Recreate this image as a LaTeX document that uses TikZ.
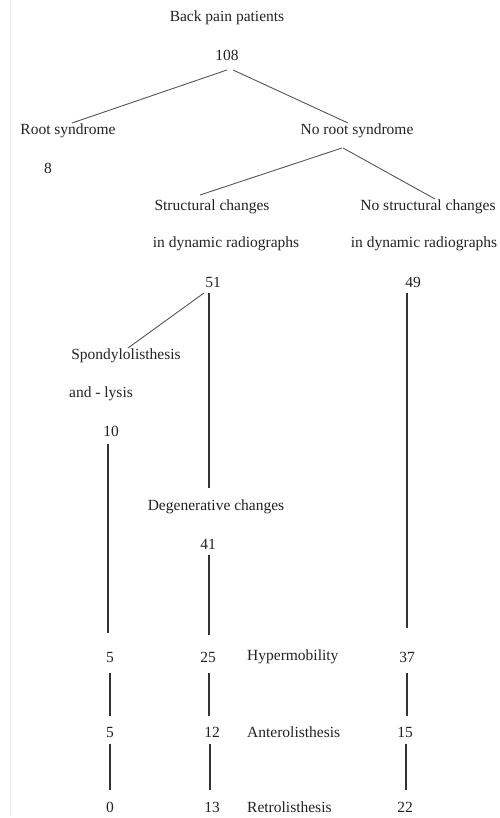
\documentclass[tikz,border=0pt]{standalone}
\usepackage{fontspec}
\setmainfont{Liberation Serif}
\usetikzlibrary{calc}
\definecolor{ink}{HTML}{222222}
\definecolor{vline}{HTML}{333333}
\definecolor{dline}{HTML}{555555}
\begin{document}
\begin{tikzpicture}[x=1pt,y=-1pt,
  lbl/.style={inner sep=0pt,text=ink,font=\fontsize{15.5}{18}\selectfont},
  lft/.style={lbl,anchor=west},
  vcon/.style={draw=vline,line width=1.4pt},
  dcon/.style={draw=dline,line width=0.9pt}]
\useasboundingbox (0,0) rectangle (499,818);
\draw[gray!12,line width=1pt] (10.5,0) -- (10.5,816);
% top levels
\node[lbl] (bpp) at (227,18) {Back pain patients};
\node[lbl] (n108) at (227,55) {108};
\node[lbl] (root) at (68,131) {Root syndrome};
\node[lbl] (n8) at (48,168) {8};
\node[lbl] (noroot) at (357,131) {No root syndrome};
\node[lbl] (sc1) at (212,207) {Structural changes};
\node[lbl] (sc2) at (226,244) {in dynamic radiographs};
\node[lbl] (nsc1) at (428,207) {No structural changes};
\node[lbl] (nsc2) at (424,244) {in dynamic radiographs};
\node[lbl] (n51) at (213,282) {51};
\node[lbl] (n49) at (413,282) {49};
\node[lbl] (sp1) at (126,356) {Spondylolisthesis};
\node[lbl] (sp2) at (101,394) {and - lysis};
\node[lbl] (n10) at (111,431) {10};
\node[lbl] (deg) at (216,507) {Degenerative changes};
\node[lbl] (n41) at (208,544) {41};
% rows
\node[lbl] (a1) at (110,657) {5};
\node[lbl] (b1) at (208,657) {25};
\node[lft] (hyp) at (247,657) {Hypermobility};
\node[lbl] (c1) at (407,657) {37};
\node[lbl] (a2) at (110,732) {5};
\node[lbl] (b2) at (212,732) {12};
\node[lft] (ant) at (247,732) {Anterolisthesis};
\node[lbl] (c2) at (405,732) {15};
\node[lbl] (a3) at (110,807) {0};
\node[lbl] (b3) at (212,807) {13};
\node[lft] (ret) at (247,807) {Retrolisthesis};
\node[lbl] (c3) at (405,807) {22};
% diagonal connectors
\draw[dcon] ($(n108)+(0,15)$) -- ($(root)+(4,-8)$);
\draw[dcon] ($(n108)+(6,15)$) -- ($(noroot)+(-9,-8)$);
\draw[dcon] ($(noroot)+(-15,17)$) -- ($(sc1)+(-12,-12)$);
\draw[dcon] ($(noroot)+(-14,17)$) -- ($(nsc1)+(7,-8)$);
\draw[dcon] ($(n51)+(-9,11)$) -- ($(sp1)+(2,-8)$);
% vertical connectors
\draw[vcon] ($(n51)+(-4,11)$) -- ($(deg)+(-7,-19)$);
\draw[vcon] ($(n49)+(-6,11)$) -- ($(c1)+(0,-29)$);
\draw[vcon] ($(n10)+(-3,13)$) -- ($(a1)+(-2,-24)$);
\draw[vcon] ($(n41)+(1,11)$) -- ($(b1)+(1,-22)$);
\draw[vcon] ($(a1)+(0,16)$) -- ($(a2)+(0,-16)$);
\draw[vcon] ($(b1)+(1,16)$) -- ($(b2)+(-3,-16)$);
\draw[vcon] ($(c1)+(0,16)$) -- ($(c2)+(2,-16)$);
\draw[vcon] ($(a2)+(0,12)$) -- ($(a3)+(0,-17)$);
\draw[vcon] ($(b2)+(-2,12)$) -- ($(b3)+(-2,-17)$);
\draw[vcon] ($(c2)+(1,12)$) -- ($(c3)+(1,-17)$);
\end{tikzpicture}
\end{document}
